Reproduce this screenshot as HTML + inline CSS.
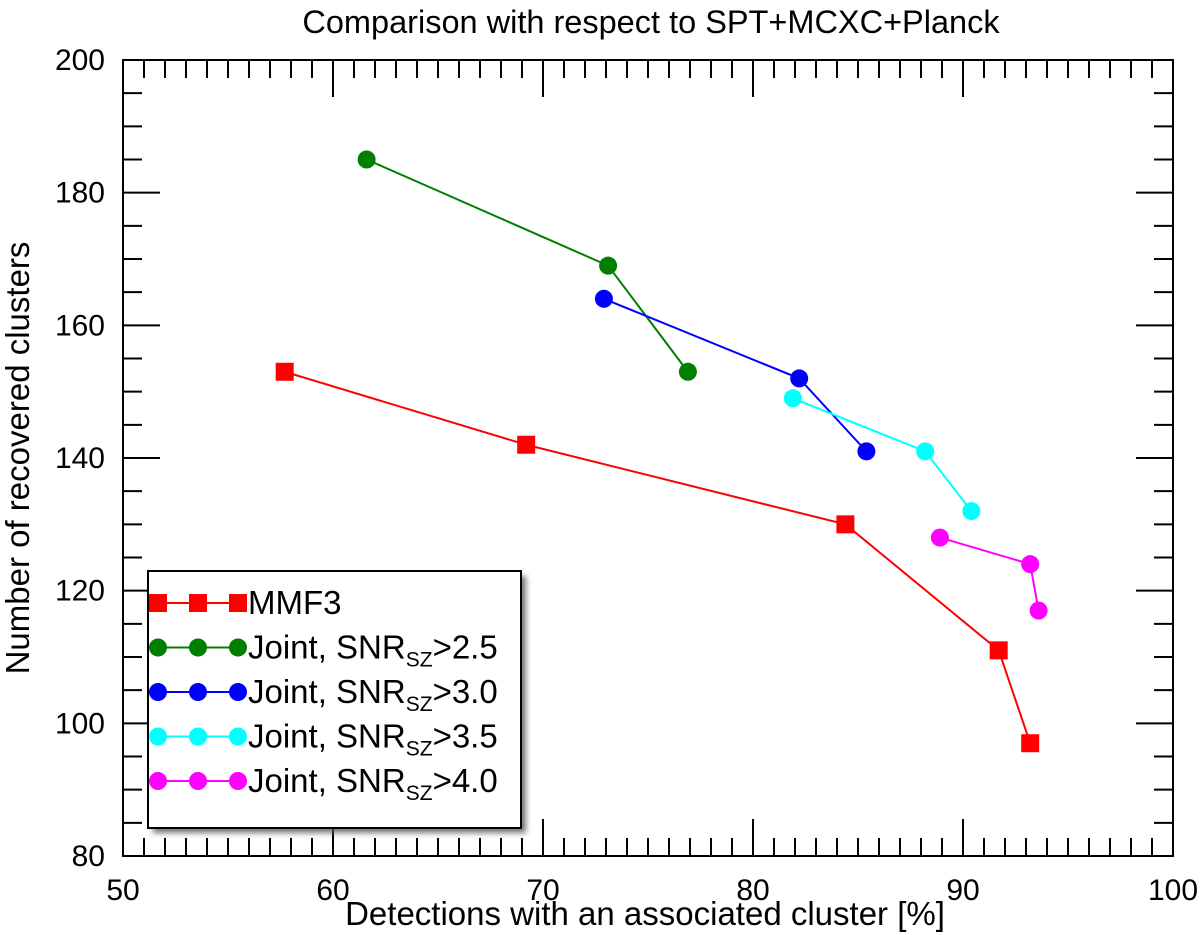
<!DOCTYPE html>
<html><head><meta charset="utf-8"><style>
html,body{margin:0;padding:0;background:#fff;}
svg{display:block;font-family:"Liberation Sans",Arial,sans-serif;}
</style></head><body>
<svg id="chart" width="1200" height="935" viewBox="0 0 1200 935" xmlns="http://www.w3.org/2000/svg">
<defs><filter id="sh" x="-10%" y="-10%" width="130%" height="130%"><feGaussianBlur stdDeviation="3"/></filter></defs>
<text x="651" y="33" font-size="32.5" text-anchor="middle">Comparison with respect to SPT+MCXC+Planck</text>
<g id="axes"></g>
<g id="series"></g>
<g id="legend"></g>
<text x="645" y="925" font-size="33" text-anchor="middle">Detections with an associated cluster [%]</text>
<text transform="translate(29,458) rotate(-90)" font-size="33" text-anchor="middle">Number of recovered clusters</text>
</svg>
<script>
const xTicks=[50,60,70,80,90,100];
const yTicks=[80,100,120,140,160,180,200];
const mmf3X=[57.7,69.2,84.4,91.7,93.2];
const mmf3Y=[153,142,130,111,97];
const j25X=[61.6,73.1,76.9];
const j25Y=[185,169,153];
const j30X=[72.9,82.2,85.4];
const j30Y=[164,152,141];
const j35X=[81.9,88.2,90.4];
const j35Y=[149,141,132];
const j40X=[88.9,93.2,93.6];
const j40Y=[128,124,117];
const seriesNames=["MMF3","Joint, SNR_SZ>2.5","Joint, SNR_SZ>3.0","Joint, SNR_SZ>3.5","Joint, SNR_SZ>4.0"];

const NS="http://www.w3.org/2000/svg";
const L=123,R=1173,T=60,B=856;
const xs=v=>L+(v-50)/50*(R-L);
const ys=v=>B-(v-80)/120*(B-T);
function mk(tag,attrs,parent){const e=document.createElementNS(NS,tag);for(const k in attrs)e.setAttribute(k,attrs[k]);parent.appendChild(e);return e;}
const axes=document.getElementById('axes');
const frame=mk('rect',{x:L,y:T,width:R-L,height:B-T,fill:'none',stroke:'#000','stroke-width':2},axes);


for(let v=50;v<=100;v+=1){
  const maj=v%10===0, len=maj?37:18, x=xs(v);
  const a=mk('line',{x1:x,x2:x,y1:B,y2:B-len,stroke:'#000','stroke-width':2},axes);
  
  
  const b=mk('line',{x1:x,x2:x,y1:T,y2:T+len,stroke:'#000','stroke-width':2},axes);
  
  
}
for(let v=80;v<=200;v+=5){
  const maj=v%20===0, len=maj?37:19, y=ys(v);
  const a=mk('line',{x1:L,x2:L+len,y1:y,y2:y,stroke:'#000','stroke-width':2},axes);
  
  
  const b=mk('line',{x1:R,x2:R-len,y1:y,y2:y,stroke:'#000','stroke-width':2},axes);
  
  
}
xTicks.forEach(v=>{
  const t=mk('text',{x:xs(v),y:B+44,'font-size':30,'text-anchor':'middle'},axes);t.textContent=v;
  
  
});
yTicks.forEach(v=>{
  const t=mk('text',{x:L-18,y:ys(v)+10,'font-size':30,'text-anchor':'end'},axes);t.textContent=v;
  
  
});
const ser=document.getElementById('series');
const defs=[[mmf3X,mmf3Y,'#ff0000','sq'],[j25X,j25Y,'#007f00','c'],[j30X,j30Y,'#0000ff','c'],[j35X,j35Y,'#00ffff','c'],[j40X,j40Y,'#ff00ff','c']];
function marker(x,y,c,shape,g){
  let m;
  if(shape==='sq') m=mk('rect',{x:x-9,y:y-9,width:18,height:18,fill:c},g);
  else m=mk('circle',{cx:x,cy:y,r:9,fill:c},g);
  return m;
}
defs.forEach((d,i)=>{
  const g=mk('g',{},ser);
  
  
  const pts=d[0].map((v,k)=>xs(v)+','+ys(d[1][k])).join(' ');
  const pl=mk('polyline',{points:pts,fill:'none',stroke:d[2],'stroke-width':2},g);
  
  
  d[0].forEach((v,k)=>{
    const m=marker(xs(v),ys(d[1][k]),d[2],d[3],g);
    
    
  });
});
const lg=document.getElementById('legend');


mk('rect',{x:153,y:576,width:373,height:257,fill:'#555',filter:'url(#sh)',opacity:0.8},lg);
mk('rect',{x:148,y:571,width:373,height:257,fill:'#fff',stroke:'#000','stroke-width':2},lg);
defs.forEach((d,i)=>{
  const y=603+i*44.5;
  const g=mk('g',{},lg);
  
  
  mk('line',{x1:158,x2:238,y1:y,y2:y,stroke:d[2],'stroke-width':2},g);
  [158,198,238].forEach(x=>marker(x,y,d[2],d[3],g));
  const t=mk('text',{x:248,y:y+11,'font-size':33},g);
  const nm=seriesNames[i];
  if(nm.indexOf('_SZ')>=0){
    const p=nm.split('_SZ');
    t.appendChild(document.createTextNode(p[0]));
    const s=mk('tspan',{'font-size':21,dy:8},t);s.textContent='SZ';
    const r=mk('tspan',{dy:-8},t);r.textContent=p[1];
  } else t.textContent=nm;
});
</script>
</body></html>
